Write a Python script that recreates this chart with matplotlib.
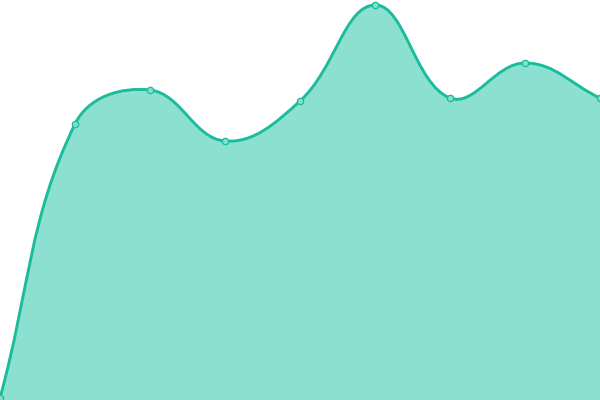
import numpy as np
import matplotlib
matplotlib.use("Agg")
import matplotlib.pyplot as plt
from matplotlib.path import Path
from matplotlib.patches import PathPatch

# data (no axes shown in the reference)
categories = ["A", "B", "C", "D", "E", "F", "G", "H", "I"]
values = [2, 276, 310, 259, 299, 395, 302, 337, 302]

line_color = "#1abc9c"
fill_color = "#8ce0cf"


def spline_path(pts, t=0.4):
    """cubic spline with tension, like chart.js splineCurve"""
    n = len(pts)
    cp_prev, cp_next = [], []
    for i in range(n):
        cur = pts[i]
        prev = pts[i - 1] if i > 0 else cur
        nxt = pts[i + 1] if i < n - 1 else cur
        d01 = np.hypot(*(cur - prev))
        d12 = np.hypot(*(nxt - cur))
        s = d01 + d12
        s01 = d01 / s if s else 0
        s12 = d12 / s if s else 0
        cp_prev.append(cur - t * s01 * (nxt - prev))
        cp_next.append(cur + t * s12 * (nxt - prev))
    verts = [pts[0]]
    codes = [Path.MOVETO]
    for i in range(1, n):
        verts += [cp_next[i - 1], cp_prev[i], pts[i]]
        codes += [Path.CURVE4] * 3
    return np.array(verts), codes


fig = plt.figure(figsize=(6, 4), dpi=100)
ax = fig.add_axes([0, 0, 1, 1])
x = np.arange(len(categories))
ax.set_xlim(0, len(categories) - 1)
ax.set_ylim(0, 400)
ax.axis("off")

disp = ax.transData.transform(np.column_stack([x, values]))
verts, codes = spline_path(disp)
verts = ax.transData.inverted().transform(verts)

# area
area_verts = np.vstack([verts, [[x[-1], 0], [x[0], 0], verts[0]]])
area_codes = codes + [Path.LINETO, Path.LINETO, Path.CLOSEPOLY]
ax.add_patch(PathPatch(Path(area_verts, area_codes), facecolor=fill_color,
                       edgecolor="none", zorder=1))
# line
ax.add_patch(PathPatch(Path(verts, codes), facecolor="none",
                       edgecolor=line_color, lw=2.1, zorder=2,
                       capstyle="round", joinstyle="round"))

ax.plot(x, values, "o", ms=4.6, mfc="#86dcca", mec=line_color,
        mew=0.9, zorder=3, clip_on=True)

fig.savefig("out.png", dpi=100)
